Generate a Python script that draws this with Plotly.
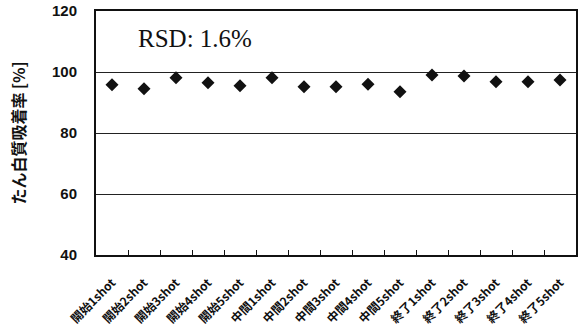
import plotly.graph_objects as go

# Shot labels along the x axis
categories = [
    "開始1shot", "開始2shot", "開始3shot", "開始4shot", "開始5shot",
    "中間1shot", "中間2shot", "中間3shot", "中間4shot", "中間5shot",
    "終了1shot", "終了2shot", "終了3shot", "終了4shot", "終了5shot",
]
# Protein adsorption rate per shot [%]
adsorption = [95.8, 94.5, 98.1, 96.5, 95.5,
              98.1, 95.2, 95.2, 96.0, 93.5,
              99.0, 98.7, 96.8, 96.8, 97.4]
y_ticks = [40, 60, 80, 100, 120]
rsd_label = "RSD: 1.6%"

fig = go.Figure()
fig.add_trace(go.Scatter(
    x=categories, y=adsorption, mode="markers",
    marker=dict(symbol="diamond", size=10, color="#111111"),
    showlegend=False,
))

fig.add_annotation(
    x=0.083, xref="paper", y=111, yref="y",
    text=rsd_label, showarrow=False, xanchor="left", yanchor="middle",
    font=dict(family="Liberation Serif, DejaVu Serif, serif", size=25, color="#111111"),
)

fig.update_xaxes(
    type="category", tickangle=-45,
    tickfont=dict(family="Noto Sans CJK JP, sans-serif",
                  size=12, color="#111111", weight="bold"),
    ticklabelstandoff=14,
    showline=True, linecolor="#111111", linewidth=2, mirror=True,
    ticks="inside", ticklen=5, tickwidth=1, tickcolor="#111111", tickson="boundaries",
    showgrid=False, range=[-0.5, 14.5],
)
fig.update_yaxes(
    range=[40, 120], tickvals=y_ticks,
    tickfont=dict(family="Liberation Sans, Arial, sans-serif", size=15, color="#111111",
                  weight="bold"),
    ticklabelstandoff=14,
    showline=True, linecolor="#111111", linewidth=2, mirror=True,
    showgrid=True, gridcolor="#222222", gridwidth=1,
    ticks="", zeroline=False,
    title=dict(text="たん白質吸着率 [%]", standoff=22,
               font=dict(family="Noto Sans CJK JP, sans-serif", size=16, color="#111111",
                         weight="bold")),
)

fig.update_layout(
    width=579, height=327,
    margin=dict(l=96, r=1, t=11, b=71),
    paper_bgcolor="white", plot_bgcolor="white",
)

fig.write_html("out.html")
